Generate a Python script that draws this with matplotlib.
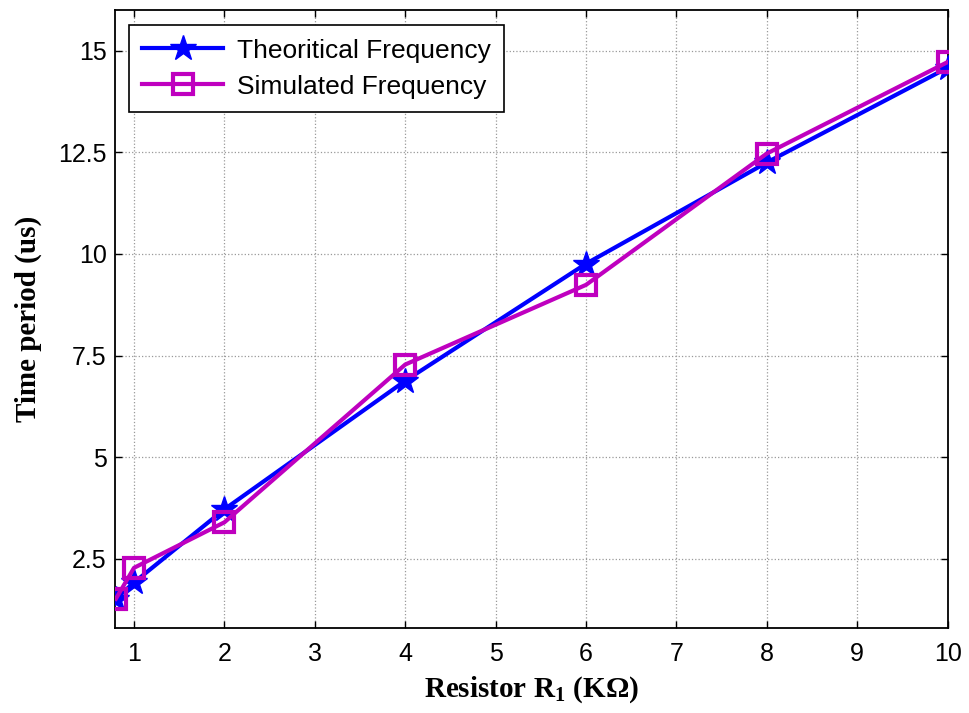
import matplotlib
matplotlib.use("Agg")
import matplotlib.pyplot as plt

x_res = [0.8, 1, 2, 4, 6, 8, 10]
theoretical = [1.52, 1.92, 3.72, 6.88, 9.76, 12.25, 14.58]
simulated = [1.52, 2.28, 3.40, 7.28, 9.24, 12.47, 14.72]
xticks = [1, 2, 3, 4, 5, 6, 7, 8, 9, 10]
yticks = [2.5, 5, 7.5, 10, 12.5, 15]
yticklabels = ["2.5", "5", "7.5", "10", "12.5", "15"]

plt.rcParams['font.family'] = ['Liberation Sans', 'DejaVu Sans']
plt.rcParams['mathtext.fontset'] = 'custom'
plt.rcParams['mathtext.bf'] = 'Liberation Serif:bold'
plt.rcParams['mathtext.rm'] = 'Liberation Serif'

fig = plt.figure(figsize=(9.69, 7.13), dpi=100)
ax = fig.add_axes([0.1187, 0.1192, 0.978 - 0.1187, 0.986 - 0.1192])

ax.plot(x_res, theoretical, color='#0000ff', lw=3, marker='*', ms=19,
        mfc='#0000ff', mec='#0000ff', label='Theoritical Frequency', zorder=3)
ax.plot(x_res, simulated, color='#bf00bf', lw=3, marker='s', ms=14,
        mfc='none', mec='#bf00bf', mew=3, label='Simulated Frequency', zorder=4)

ax.set_xlim(0.79, 10)
ax.set_ylim(0.8, 16)
ax.set_xticks(xticks)
ax.set_yticks(yticks)
ax.set_yticklabels(yticklabels)
ax.tick_params(direction='in', top=True, right=True, labelsize=18, length=5, width=1)
ax.tick_params(axis='x', pad=10)
ax.tick_params(axis='y', pad=6)
ax.grid(True, linestyle=':', color='#999999', linewidth=0.9)
for s in ax.spines.values():
    s.set_linewidth(1.3)

ax.set_xlabel('Resistor R$_\\mathbf{1}$ (KΩ)', family='Liberation Serif',
              fontweight='bold', fontsize=21, labelpad=6)
ax.set_ylabel('Time period (us)', family='Liberation Serif', fontweight='bold', fontsize=21, labelpad=12)

leg = ax.legend(loc='upper left', bbox_to_anchor=(0.017, 0.975), fontsize=19, fancybox=False,
                edgecolor='black', framealpha=1, borderpad=0.5, handlelength=3.05,
                labelspacing=0.45, borderaxespad=0, handletextpad=0.55)
leg.get_frame().set_linewidth(1.2)

fig.savefig('out.png', dpi=100)
